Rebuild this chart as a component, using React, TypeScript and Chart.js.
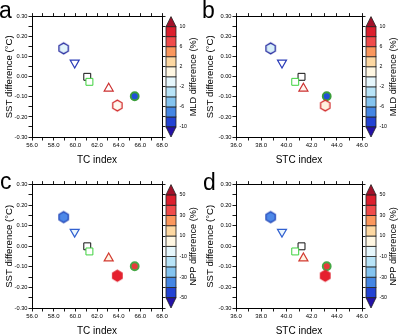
import React, { useEffect, useRef } from "react";
import { Chart, registerables } from "chart.js";

Chart.register(...registerables);

const FONT = "'Liberation Sans', Arial, Helvetica, sans-serif";

// ---------------- data ----------------
const tcIndex = [58.92, 59.94, 61.1, 61.3, 63.08, 65.48, 63.88];
const stcIndex = [38.75, 39.65, 41.2, 40.7, 41.35, 43.2, 43.08];
const sstDifference = [0.142, 0.07, 0.0, -0.025, -0.058, -0.097, -0.143];

const tcTicks = [56, 57, 58, 59, 60, 61, 62, 63, 64, 65, 66, 67, 68];
const stcTicks = [36, 37, 38, 39, 40, 41, 42, 43, 44, 45, 46];
const sstTicks = [-0.3, -0.25, -0.2, -0.15, -0.1, -0.05, 0, 0.05, 0.1, 0.15, 0.2, 0.25, 0.3];

const mldLevels = [-10, -8, -6, -4, -2, 0, 2, 4, 6, 8, 10];
const mldTickLabels = [10, 6, 2, -2, -6, -10];
const nppLevels = [-50, -40, -30, -20, -10, 0, 10, 20, 30, 40, 50];
const nppTickLabels = [50, 30, 10, -10, -30, -50];

// colour of each colour-bar segment, bottom (below lowest level) to top (above highest level)
const levelColors = [
  "#2412a8",
  "#2243d4",
  "#4486e4",
  "#84c4f0",
  "#b8e4f8",
  "#e6f7fd",
  "#fff7e3",
  "#fdd8a2",
  "#fb975d",
  "#f04b4b",
  "#dc1f2e",
  "#a1122a",
];

// markers, one per experiment
const markerShapes = ["hexagon", "triangleDown", "square", "square", "triangle", "circle", "hexagon"];
const markerRadius = [5.4, 5.2, 4.9, 4.9, 5.2, 4, 5.4];
const markerBorder = [1.3, 1.2, 1, 1, 1.2, 1.8, 1.3];
const edgeMLD = ["#23289e", "#2b3cb8", "#111111", "#3dd13d", "#cc3030", "#3a9e3a", "#d22e2e"];
const fillA = ["#e2f4fb", "#ffffff", "#ffffff", "#ffffff", "#ffffff", "#2050d6", "#fff9f0"];
const fillB = ["#d8eff9", "#ffffff", "#ffffff", "#ffffff", "#fff5ee", "#2050d6", "#fff1de"];
const edgeNPP = ["#2448b8", "#3160d0", "#111111", "#3dd13d", "#d23a30", "#45a845", "#e0222e"];
const fillC = ["#4d88e8", "#eaf6fd", "#ffffff", "#ffffff", "#fff4e4", "#e63a3a", "#e6202e"];
const fillD = ["#4d88e8", "#eaf6fd", "#ffffff", "#ffffff", "#fff4e4", "#e63a3a", "#e6202e"];

// ---------------- panels ----------------
type PanelSpec = {
  letter: string;
  pos: [number, number];
  letterPos: [number, number];
  xValues: number[];
  xTicks: number[];
  xTitle: string;
  levels: number[];
  cbLabels: number[];
  cbTitle: string;
  fills: string[];
  edges: string[];
  area: { left: number; top: number; right: number; bottom: number };
  xTitlePad: number;
  yTitlePad: number;
};

const W = 200;
const H = 168;

const panels: PanelSpec[] = [
  {
    letter: "a", pos: [0, 0], letterPos: [-1, 18],
    xValues: tcIndex, xTicks: tcTicks, xTitle: "TC index",
    levels: mldLevels, cbLabels: mldTickLabels, cbTitle: "MLD difference (%)",
    fills: fillA, edges: edgeMLD,
    area: { left: 32, top: 4, right: 162, bottom: 137 }, xTitlePad: 1.3, yTitlePad: 3.6,
  },
  {
    letter: "b", pos: [200, 0], letterPos: [2, 18],
    xValues: stcIndex, xTicks: stcTicks, xTitle: "STC index",
    levels: mldLevels, cbLabels: mldTickLabels, cbTitle: "MLD difference (%)",
    fills: fillB, edges: edgeMLD,
    area: { left: 36, top: 4, right: 162, bottom: 137 }, xTitlePad: 1.3, yTitlePad: 4.1,
  },
  {
    letter: "c", pos: [0, 168], letterPos: [0, 21],
    xValues: tcIndex, xTicks: tcTicks, xTitle: "TC index",
    levels: nppLevels, cbLabels: nppTickLabels, cbTitle: "NPP difference (%)",
    fills: fillC, edges: edgeNPP,
    area: { left: 32, top: 8, right: 162, bottom: 140 }, xTitlePad: -1.5, yTitlePad: 3.6,
  },
  {
    letter: "d", pos: [200, 168], letterPos: [3, 22],
    xValues: stcIndex, xTicks: stcTicks, xTitle: "STC index",
    levels: nppLevels, cbLabels: nppTickLabels, cbTitle: "NPP difference (%)",
    fills: fillD, edges: edgeNPP,
    area: { left: 36, top: 8, right: 162, bottom: 140 }, xTitlePad: -1.5, yTitlePad: 4.1,
  },
];

function makeHexagon(r: number, fill: string, stroke: string, lw: number): HTMLCanvasElement {
  const size = Math.ceil(2 * r + lw + 2);
  const c = document.createElement("canvas");
  c.width = size;
  c.height = size;
  const ctx = c.getContext("2d")!;
  const cx = size / 2;
  const cy = size / 2;
  ctx.beginPath();
  for (let i = 0; i < 6; i++) {
    const a = -Math.PI / 2 + (i * Math.PI) / 3;
    const px = cx + r * Math.cos(a);
    const py = cy + r * Math.sin(a);
    if (i === 0) ctx.moveTo(px, py);
    else ctx.lineTo(px, py);
  }
  ctx.closePath();
  ctx.fillStyle = fill;
  ctx.fill();
  ctx.lineWidth = lw;
  ctx.strokeStyle = stroke;
  ctx.stroke();
  return c;
}

const panelDecor = {
  id: "panelDecor",
  afterDraw(chart: any, _args: any, opts: any) {
    const { ctx } = chart;
    const s = chart.scales.cb;
    const levels: number[] = opts.levels;
    const x0 = s.left + opts.gap;
    const w = opts.barWidth;
    ctx.save();
    ctx.lineWidth = 0.8;
    ctx.strokeStyle = "#222";
    for (let i = 0; i < levels.length - 1; i++) {
      const yA = s.getPixelForValue(levels[i]);
      const yB = s.getPixelForValue(levels[i + 1]);
      ctx.fillStyle = levelColors[i + 1];
      ctx.fillRect(x0, yB, w, yA - yB);
      ctx.strokeRect(x0, yB, w, yA - yB);
    }
    const yLow = s.getPixelForValue(levels[0]);
    const yMin = s.getPixelForValue(s.min);
    ctx.beginPath();
    ctx.moveTo(x0, yLow);
    ctx.lineTo(x0 + w, yLow);
    ctx.lineTo(x0 + w / 2, yMin);
    ctx.closePath();
    ctx.fillStyle = levelColors[0];
    ctx.fill();
    ctx.stroke();
    const yHigh = s.getPixelForValue(levels[levels.length - 1]);
    const yMax = s.getPixelForValue(s.max);
    ctx.beginPath();
    ctx.moveTo(x0, yHigh);
    ctx.lineTo(x0 + w, yHigh);
    ctx.lineTo(x0 + w / 2, yMax);
    ctx.closePath();
    ctx.fillStyle = levelColors[levelColors.length - 1];
    ctx.fill();
    ctx.stroke();

    // colour-bar title (reads bottom to top)
    ctx.save();
    ctx.translate(opts.titleX, (chart.chartArea.top + chart.chartArea.bottom) / 2);
    ctx.rotate(-Math.PI / 2);
    ctx.font = `${opts.titleSize}px ${FONT}`;
    ctx.fillStyle = "#000";
    ctx.textAlign = "center";
    ctx.textBaseline = "middle";
    ctx.fillText(opts.title, 0, 0);
    ctx.restore();

    // panel letter
    ctx.font = `${opts.letterSize}px ${FONT}`;
    ctx.fillStyle = "#000";
    ctx.textAlign = "left";
    ctx.textBaseline = "alphabetic";
    ctx.fillText(opts.letter, opts.letterPos[0], opts.letterPos[1]);
    ctx.restore();
  },
};

function buildConfig(p: PanelSpec): any {
  const xTickFont = { family: FONT, size: 6 };
  const yTickFont = { family: FONT, size: 5.7 };
  const tickLen = 3.5;
  const grid = {
    display: true,
    drawOnChartArea: false,
    drawTicks: true,
    tickLength: tickLen,
    color: "#000",
    tickColor: "#000",
    tickWidth: 0.9,
  };
  const border = { display: true, color: "#000", width: 1 };
  const xMin = p.xTicks[0];
  const xMax = p.xTicks[p.xTicks.length - 1];
  const yMin = sstTicks[0];
  const yMax = sstTicks[sstTicks.length - 1];
  const step = p.levels[1] - p.levels[0];
  const cbMin = p.levels[0] - step;
  const cbMax = p.levels[p.levels.length - 1] + step;

  const pointStyle = markerShapes.map((shape, i) =>
    shape === "hexagon"
      ? makeHexagon(markerRadius[i], p.fills[i], p.edges[i], markerBorder[i])
      : shape === "square"
      ? "rect"
      : shape === "circle"
      ? "circle"
      : "triangle"
  );
  const rotation = markerShapes.map((s) => (s === "triangleDown" ? 180 : 0));

  return {
    type: "scatter",
    data: {
      datasets: [
        {
          data: p.xValues.map((x, i) => ({ x, y: sstDifference[i] })),
          pointStyle,
          rotation,
          pointRotation: rotation,
          pointRadius: markerRadius,
          pointBorderWidth: markerBorder,
          pointBackgroundColor: p.fills,
          pointBorderColor: p.edges,
          clip: false,
        },
      ],
    },
    options: {
      animation: false,
      responsive: false,
      devicePixelRatio: 1,
      events: [],
      layout: { padding: 0 },
      plugins: {
        legend: { display: false },
        tooltip: { enabled: false },
        panelDecor: {
          levels: p.levels,
          gap: 0,
          barWidth: 10,
          title: p.cbTitle,
          titleX: 193,
          titleSize: 9.2,
          letter: p.letter,
          letterPos: p.letterPos,
          letterSize: 23,
        },
      },
      scales: {
        x: {
          type: "linear",
          position: "bottom",
          min: xMin,
          max: xMax,
          afterBuildTicks: (s: any) => {
            s.ticks = p.xTicks.map((v) => ({ value: v }));
          },
          afterFit: (s: any) => {
            s.height = H - p.area.bottom;
          },
          ticks: {
            autoSkip: false,
            maxRotation: 0,
            padding: 1,
            font: xTickFont,
            color: "#000",
            callback: (v: any, i: number) => (i % 2 === 0 ? Number(v).toFixed(1) : ""),
          },
          grid,
          border,
          title: {
            display: true,
            text: p.xTitle,
            color: "#000",
            font: { family: FONT, size: 10 },
            padding: { top: 0, bottom: p.xTitlePad },
          },
        },
        x2: {
          type: "linear",
          position: "top",
          min: xMin,
          max: xMax,
          afterBuildTicks: (s: any) => {
            s.ticks = p.xTicks.map((v) => ({ value: v }));
          },
          afterFit: (s: any) => {
            s.height = p.area.top;
          },
          ticks: { display: false },
          grid,
          border,
        },
        y: {
          type: "linear",
          position: "left",
          min: yMin,
          max: yMax,
          afterBuildTicks: (s: any) => {
            s.ticks = sstTicks.map((v) => ({ value: v }));
          },
          afterFit: (s: any) => {
            s.width = p.area.left;
          },
          ticks: {
            autoSkip: false,
            padding: 1,
            font: yTickFont,
            color: "#000",
            callback: (v: any, i: number) => (i % 2 === 0 ? Number(v).toFixed(2) : ""),
          },
          grid,
          border,
          title: {
            display: true,
            text: "SST difference (°C)",
            color: "#000",
            font: { family: FONT, size: 9.6 },
            padding: { top: p.yTitlePad, bottom: 0 },
          },
        },
        y2: {
          type: "linear",
          position: "right",
          weight: 0,
          min: yMin,
          max: yMax,
          afterBuildTicks: (s: any) => {
            s.ticks = sstTicks.map((v) => ({ value: v }));
          },
          afterFit: (s: any) => {
            s.width = 4;
          },
          ticks: { display: false },
          grid,
          border,
        },
        cb: {
          type: "linear",
          position: "right",
          weight: 1,
          min: cbMin,
          max: cbMax,
          afterBuildTicks: (s: any) => {
            s.ticks = p.cbLabels.map((v) => ({ value: v }));
          },
          afterFit: (s: any) => {
            s.width = W - p.area.right - 4;
          },
          ticks: {
            autoSkip: false,
            padding: 13.5,
            font: { family: FONT, size: 5.2 },
            color: "#000",
            callback: (v: any) => String(v),
          },
          grid: { display: false, drawTicks: false, drawOnChartArea: false },
          border: { display: false },
        },
      },
    },
    plugins: [panelDecor],
  };
}

function Panel({ spec }: { spec: PanelSpec }) {
  const ref = useRef<HTMLCanvasElement>(null);
  useEffect(() => {
    const chart = new Chart(ref.current as HTMLCanvasElement, buildConfig(spec));
    return () => chart.destroy();
  }, [spec]);
  return (
    <canvas
      ref={ref}
      width={W}
      height={H}
      style={{ position: "absolute", left: spec.pos[0], top: spec.pos[1], width: W, height: H, display: "block" }}
    />
  );
}

export default function App() {
  return (
    <div
      style={{
        position: "fixed",
        left: 0,
        top: 0,
        width: 400,
        height: 336,
        background: "#ffffff",
        overflow: "hidden",
      }}
    >
      {panels.map((p) => (
        <Panel key={p.letter} spec={p} />
      ))}
    </div>
  );
}
